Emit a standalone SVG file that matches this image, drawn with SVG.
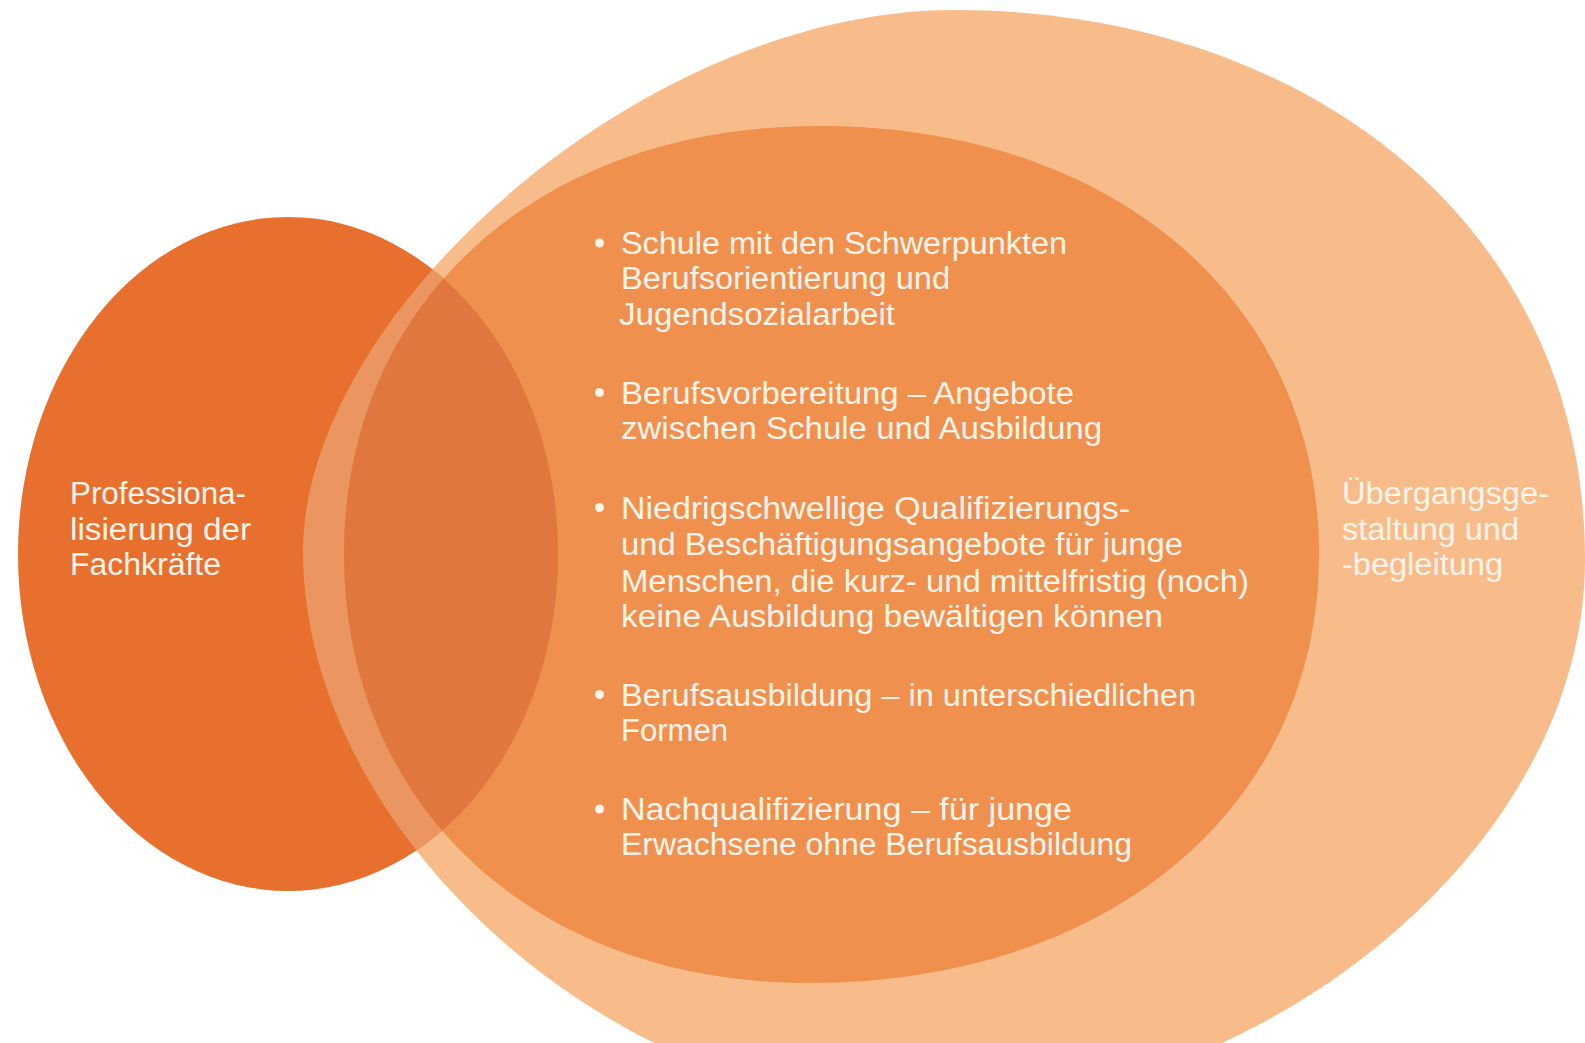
<svg xmlns="http://www.w3.org/2000/svg" width="1585" height="1043" viewBox="0 0 1585 1043">
<style>
.t{font-family:"Liberation Sans",Arial,sans-serif;font-size:31px;fill:#FFF4EA}
.b{fill:#FFF4EA}
</style>
<defs>
<clipPath id="clipLeft"><ellipse cx="288" cy="554" rx="270" ry="337"/></clipPath>
</defs>
<rect width="1585" height="1043" fill="#FFFFFF"/>
<g id="uebergang">
<path d="M303,551 C303,316 640,10 955,10 C1300,10 1585,220 1585,560 C1585,850 1260,1110 925,1110 C615,1110 303,835 303,551 Z" fill="#F8BC8A"/>
</g>
<g id="angebote">
<path d="M344,554 C344,301.5 538.7,126 819,126 C1114,126 1319,301.5 1319,554 C1319,807 1110,983 809,983 C535,983 344,807 344,554 Z" fill="#F0904F"/>
</g>
<g id="professionalisierung">
<ellipse cx="288" cy="554" rx="270" ry="337" fill="#E8702E"/>
<g clip-path="url(#clipLeft)">
<path d="M303,551 C303,316 640,10 955,10 C1300,10 1585,220 1585,560 C1585,850 1260,1110 925,1110 C615,1110 303,835 303,551 Z" fill="#EB9660"/>
<path d="M344,554 C344,301.5 538.7,126 819,126 C1114,126 1319,301.5 1319,554 C1319,807 1110,983 809,983 C535,983 344,807 344,554 Z" fill="#E0773F"/>
</g>
<text class="t" x="70" y="504" textLength="176" lengthAdjust="spacingAndGlyphs">Professiona-</text>
<text class="t" x="70" y="540" textLength="181" lengthAdjust="spacingAndGlyphs">lisierung der</text>
<text class="t" x="70" y="575" textLength="151" lengthAdjust="spacingAndGlyphs">Fachkräfte</text>
</g>
<g id="uebergang-label">
<text class="t" x="1342" y="504" textLength="207" lengthAdjust="spacingAndGlyphs">Übergangsge-</text>
<text class="t" x="1342" y="540" textLength="177" lengthAdjust="spacingAndGlyphs">staltung und</text>
<text class="t" x="1342" y="575" textLength="161" lengthAdjust="spacingAndGlyphs">-begleitung</text>
</g>
<g id="angebote-list">
<circle class="b" cx="599.5" cy="243" r="4.5"/>
<text class="t" x="621" y="254" textLength="446" lengthAdjust="spacingAndGlyphs">Schule mit den Schwerpunkten</text>
<text class="t" x="621" y="289" textLength="329" lengthAdjust="spacingAndGlyphs">Berufsorientierung und</text>
<text class="t" x="619" y="324.5" textLength="276" lengthAdjust="spacingAndGlyphs">Jugendsozialarbeit</text>
<circle class="b" cx="599.5" cy="392.5" r="4.5"/>
<text class="t" x="621" y="403.5" textLength="453" lengthAdjust="spacingAndGlyphs">Berufsvorbereitung – Angebote</text>
<text class="t" x="621" y="439" textLength="481" lengthAdjust="spacingAndGlyphs">zwischen Schule und Ausbildung</text>
<circle class="b" cx="599.5" cy="507.5" r="4.5"/>
<text class="t" x="621" y="518.5" textLength="509" lengthAdjust="spacingAndGlyphs">Niedrigschwellige Qualifizierungs-</text>
<text class="t" x="621" y="555" textLength="562" lengthAdjust="spacingAndGlyphs">und Beschäftigungsangebote für junge</text>
<text class="t" x="621" y="591.5" textLength="628" lengthAdjust="spacingAndGlyphs">Menschen, die kurz- und mittelfristig (noch)</text>
<text class="t" x="621" y="627" textLength="542" lengthAdjust="spacingAndGlyphs">keine Ausbildung bewältigen können</text>
<circle class="b" cx="599.5" cy="694.5" r="4.5"/>
<text class="t" x="621" y="705.5" textLength="575" lengthAdjust="spacingAndGlyphs">Berufsausbildung – in unterschiedlichen</text>
<text class="t" x="621" y="741" textLength="107" lengthAdjust="spacingAndGlyphs">Formen</text>
<circle class="b" cx="599.5" cy="809" r="4.5"/>
<text class="t" x="621" y="820" textLength="451" lengthAdjust="spacingAndGlyphs">Nachqualifizierung – für junge</text>
<text class="t" x="621" y="855" textLength="511" lengthAdjust="spacingAndGlyphs">Erwachsene ohne Berufsausbildung</text>
</g>
<g id="connectors"/>
</svg>
